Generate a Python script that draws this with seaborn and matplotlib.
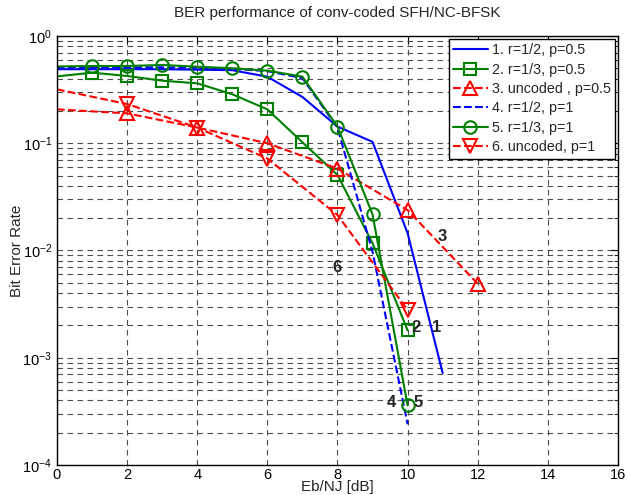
import numpy as np
import pandas as pd
import matplotlib
matplotlib.use("Agg")
import matplotlib.pyplot as plt
import seaborn as sns
from matplotlib.ticker import LogLocator, FixedLocator, NullFormatter

sns.set_style("white")
plt.rcParams["font.family"] = ["Liberation Sans", "DejaVu Sans"]

# ---------------------------
# dados
# ---------------------------
EBNJ_INT = [0, 1, 2, 3, 4, 5, 6, 7, 8, 9, 10, 11]
EBNJ_10 = [0, 1, 2, 3, 4, 5, 6, 7, 8, 9, 10]
EBNJ_EVEN = [0, 2, 4, 6, 8, 10, 12]

BER_R12_P05 = [0.49, 0.49, 0.49, 0.49, 0.485, 0.48, 0.417, 0.27, 0.143, 0.103, 0.0145, 7.2e-4]
BER_R13_P05 = [0.42, 0.455, 0.424, 0.383, 0.362, 0.286, 0.207, 0.102, 0.0506, 0.0117, 1.8e-3]
BER_UNC_P05 = [0.207, 0.19, 0.14, 0.1, 0.058, 0.0238, 4.9e-3]
BER_R12_P1 = [0.51, 0.51, 0.51, 0.51, 0.505, 0.495, 0.47, 0.405, 0.14, 0.0097, 2.4e-4]
BER_R13_P1 = [0.52, 0.525, 0.525, 0.537, 0.517, 0.50, 0.475, 0.418, 0.143, 0.0217, 3.6e-4]
BER_UNC_P1 = [0.318, 0.232, 0.14, 0.072, 0.0214, 2.8e-3, None]

LABELS = ["1. r=1/2, p=0.5", "2. r=1/3, p=0.5", "3. uncoded , p=0.5",
          "4. r=1/2, p=1", "5. r=1/3, p=1", "6. uncoded, p=1"]

# rótulos numéricos das curvas
CURVE_TAGS = ["6", "3", "2", "1", "4", "5"]
TAG_X = [7.99, 10.98, 10.25, 10.84, 9.55, 10.3]
TAG_Y = [7.0e-3, 1.36e-2, 1.9e-3, 1.9e-3, 3.8e-4, 3.8e-4]

# ---------------------------
# figura
# ---------------------------
fig = plt.figure(figsize=(6.27, 4.95), dpi=100)
ax = fig.add_axes([0.0909, 0.0606, 0.8947, 0.8667])

series = [
    (EBNJ_INT, BER_R12_P05, dict(color="#0000ff", linestyle="-", marker=None)),
    (EBNJ_10, BER_R13_P05, dict(color="#008000", linestyle="-", marker="s", markersize=8)),
    (EBNJ_EVEN, BER_UNC_P05, dict(color="#ff0000", linestyle="--", marker="^", markersize=10)),
    (EBNJ_10, BER_R12_P1, dict(color="#0000ff", linestyle="--", marker=None)),
    (EBNJ_10, BER_R13_P1, dict(color="#008000", linestyle="-", marker="o", markersize=9)),
    (EBNJ_EVEN, BER_UNC_P1, dict(color="#ff0000", linestyle="--", marker="v", markersize=10)),
]

for (xs, ys, kw), lab in zip(series, LABELS):
    df = pd.DataFrame({"x": xs, "y": ys}).dropna()
    extra = {}
    if kw["marker"] is not None:
        extra = dict(markevery=list(range(1, len(df))), markerfacecolor="none",
                     markeredgecolor=kw["color"], markeredgewidth=1.5)
    sns.lineplot(data=df, x="x", y="y", ax=ax, color=kw["color"],
                 linestyle=kw["linestyle"], marker=kw["marker"],
                 markersize=kw.get("markersize", 6), linewidth=1.5,
                 label=lab, sort=False, estimator=None, **extra)

for t, tx, ty in zip(CURVE_TAGS, TAG_X, TAG_Y):
    ax.text(tx, ty, t, fontsize=12, fontweight="bold", ha="center", va="center")

ax.set_yscale("log")
ax.set_xlim(0, 16)
ax.set_ylim(1e-4, 1)
ax.xaxis.set_major_locator(FixedLocator(np.arange(0, 17, 2)))
ax.yaxis.set_major_locator(LogLocator(base=10, numticks=10))
ax.yaxis.set_minor_locator(LogLocator(base=10, subs=np.arange(2, 10), numticks=20))
ax.yaxis.set_minor_formatter(NullFormatter())

grid_kw = dict(color="0.3", linestyle=(0, (5, 4)), linewidth=0.8)
ax.grid(True, which="major", axis="both", **grid_kw)
ax.grid(True, which="minor", axis="y", **grid_kw)

ax.tick_params(which="both", direction="in", top=True, right=True,
               labelsize=10.5, colors="black")
ax.tick_params(which="major", length=5)
ax.tick_params(axis="x", which="major", pad=2)
ax.tick_params(which="minor", length=3)
for sp in ax.spines.values():
    sp.set_color("black")
    sp.set_linewidth(1.0)

ax.set_title("BER performance of conv-coded SFH/NC-BFSK", fontsize=11, pad=14)
ax.set_xlabel("Eb/NJ [dB]", fontsize=11)
ax.set_ylabel("Bit Error Rate", fontsize=11)
ax.xaxis.set_label_coords(0.5, -0.036)
ax.yaxis.set_label_coords(-0.059, 0.5)

leg = ax.legend(loc="upper right", fontsize=10.3, frameon=True, fancybox=False,
                edgecolor="black", handlelength=2.4, labelspacing=0.38,
                borderaxespad=0.2, handletextpad=0.3, borderpad=0.3)
leg.get_frame().set_linewidth(1.0)
leg.get_frame().set_alpha(1.0)

fig.savefig("out.png", dpi=100)
